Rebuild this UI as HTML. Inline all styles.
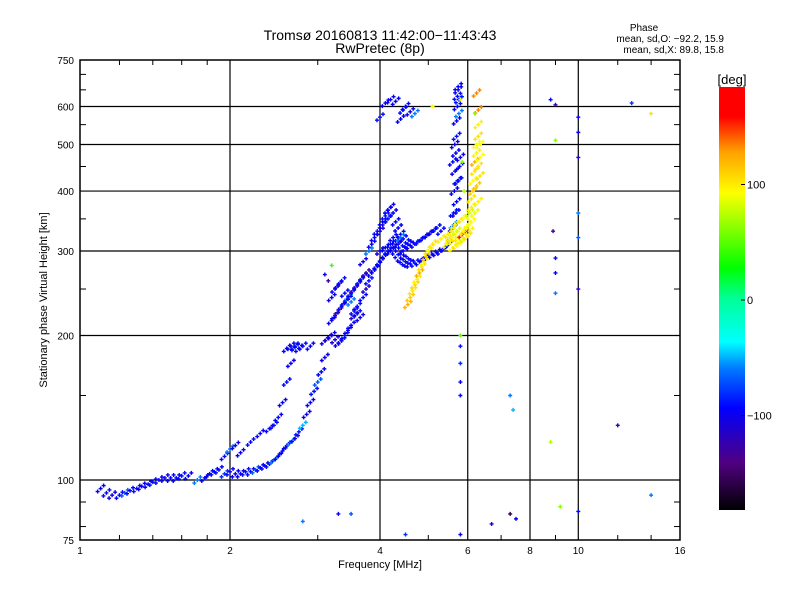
<!DOCTYPE html>
<html><head><meta charset="utf-8"><style>
body{margin:0;background:#fff;}
svg text{font-family:"Liberation Sans",sans-serif;fill:#000;}
</style></head><body>
<svg id="chart" width="800" height="600" xmlns="http://www.w3.org/2000/svg">
<defs>
<linearGradient id="cb" x1="0" y1="1" x2="0" y2="0"></linearGradient>
</defs>
<rect width="800" height="600" fill="#fff"/>
<text x="380" y="40" font-size="14" text-anchor="middle">Tromsø 20160813 11:42:00−11:43:43</text>
<text x="380" y="53" font-size="14" text-anchor="middle">RwPretec (8p)</text>
<text x="644" y="31" font-size="10" text-anchor="middle">Phase</text>
<text x="724" y="42" font-size="10" text-anchor="end">mean, sd,O: −92.2, 15.9</text>
<text x="724" y="53" font-size="10" text-anchor="end">mean, sd,X:  89.8, 15.8</text>
<g id="grid"></g>
<g id="points"></g>
<rect x="80" y="60" width="600" height="480" fill="none" stroke="#000" stroke-width="1.5"/>
<g id="axes"></g>
<text x="380" y="568" font-size="11" text-anchor="middle">Frequency [MHz]</text>
<text transform="translate(47,300) rotate(-90)" font-size="11" text-anchor="middle">Stationary phase Virtual Height [km]</text>
<text x="732" y="84" font-size="13" text-anchor="middle">[deg]</text>
<rect x="719" y="87" width="26" height="423" fill="url(#cb)"/>
<g id="cbticks"></g>
</svg>
<script>
const xTicks=[1,2,4,6,8,10,16];
const xGrid=[2,4,6,8,10];
const yTicks=[75,100,200,300,400,500,600,750];
const yGrid=[100,200,300,400,500,600];
const cbTicks=[100,0,-100];
const freqO=[1.1,1.13,1.16,1.2,1.23,1.26,1.3,1.33,1.37,1.4,1.44,1.48,1.52,1.56,1.6,1.65,1.72,1.78,1.82,1.86,1.9,1.95,2.0,2.05,2.1,2.15,2.2,2.25,2.3,2.35,2.4,2.45,2.5,2.55,2.6,2.65,2.7,2.75,2.8,2.85,2.9,2.95,3.0,3.05,3.1,1.95,2.0,2.05,2.1,2.2,2.3,2.4,2.45,2.5,2.55,2.6,2.65,2.7,2.8,2.9,2.6,2.65,2.7,2.75,
3.1,3.15,3.2,3.25,3.3,3.35,3.4,3.45,3.5,3.55,3.6,3.2,3.25,3.3,3.35,3.4,3.45,3.5,3.55,3.6,3.65,3.7,3.2,3.25,3.3,3.35,3.4,3.45,3.5,3.55,3.6,3.65,3.7,3.75,3.8,3.85,3.9,3.95,4.0,4.05,4.1,4.15,4.2,4.25,4.3,4.35,4.4,4.45,4.5,4.55,4.6,4.7,4.8,4.9,5.0,5.1,5.2,5.3,5.4,5.5,5.55,5.6,5.62,5.64,5.66,5.68,5.7,5.7,5.72,5.72,5.74,5.74,5.76,5.76,5.6,5.65,5.7,5.75,5.62,5.68,5.72,5.78,5.8,
3.8,3.85,3.9,3.95,4.0,4.05,4.1,4.15,4.2,4.25,4.3,4.35,4.4,4.45,4.5,4.55,4.6,4.7,4.8,4.9,5.0,5.1,5.2,5.3,4.0,4.1,4.2,4.3,4.4,3.9,3.7,3.75,4.05,4.15,4.25,4.35,4.45,
4.0,4.1,4.2,4.3,4.45,4.5,4.6,4.7,4.4,
8.8,9.0,10,10,10,10,10,10,8.9,9.0,9.0,9.0,12.8,5.8,5.8,5.8,5.8,7.3,7.4,12,14,10,7.3,7.5,6.7,2.8,3.3,3.5,5.8,4.5,3.2,3.1,3.15];
const heightO=[96,94,93,93,94,95,96,97,98,99,100,101,101,101,102,102,100,101,103,104,105,103,104,103,103,104,104,105,106,107,108,110,112,115,118,120,122,126,130,137,145,153,160,168,180,112,116,118,114,120,125,128,130,135,145,160,175,190,190,190,188,190,189,188,
195,198,200,196,193,195,200,205,210,220,230,215,220,225,230,235,240,245,250,255,260,265,240,250,255,260,245,238,235,225,222,218,240,250,260,270,275,280,285,290,295,300,300,305,300,295,290,288,285,283,282,283,285,290,292,295,298,300,305,310,320,335,360,400,440,480,520,560,600,630,650,660,620,580,460,500,380,420,340,360,420,450,470,
300,310,320,330,330,345,355,365,370,360,345,335,325,318,312,310,308,310,315,320,325,330,335,330,300,305,310,315,320,275,285,270,340,350,320,310,300,
570,610,620,615,590,600,585,580,565,
620,605,570,530,470,360,320,250,330,290,270,245,610,190,175,160,150,150,140,130,93,86,85,83,81,82,85,85,77,77,280,268,260];
const phaseO=[-95,-90,-100,-95,-70,-95,-90,-100,-95,-90,-95,-100,-95,-95,-90,-95,-60,-95,-100,-90,-95,-80,-100,-95,-100,-90,-95,-70,-95,-100,-90,-60,-95,-90,-100,-60,-95,-90,-50,-100,-95,-90,-70,-95,-100,-90,-60,-100,-95,-90,-95,-100,-90,-95,-95,-90,-100,-95,-90,-95,-95,-100,-90,-95,
-100,-120,-95,-110,-100,-95,-90,-100,-95,-120,-90,-100,-95,-130,-90,-100,-60,-95,-120,-100,-90,-95,-100,-95,-110,-90,-95,-100,-60,-95,-90,-100,-95,-110,-90,-95,-100,-95,-90,-95,-100,-90,-95,-100,-95,-90,-100,-95,-90,-100,-95,-90,-95,-100,-90,-95,-100,-95,-90,-95,-100,-95,-90,-95,-100,-95,-90,-95,-95,-90,-100,-95,-90,-60,-95,-100,-95,-90,-60,-95,-90,-95,-100,-60,-95,
-95,-90,-100,-95,-90,-95,-100,-95,-90,-95,-100,-95,-90,-95,-100,-95,-90,-95,-100,-95,-90,-95,-100,-95,-90,-95,-60,-95,-100,-120,-110,-90,-95,-100,-95,-90,-95,
-100,-95,-90,-95,-100,-60,-95,-90,-120,
-100,-95,-110,-60,-70,-120,-130,-100,-95,-60,-80,-90,-80,-95,-90,-60,-50,-120,-60,-95,-160,-95,-110,-60,-100,-70,-100,-80,40,-100,-130,-120,-100];
const freqX=[4.55,4.6,4.65,4.7,4.75,4.8,4.85,4.9,4.95,5.0,5.05,5.1,5.3,5.45,5.5,5.55,5.6,5.65,5.7,5.75,5.8,5.85,5.9,5.95,6.0,5.6,5.7,5.8,5.9,6.0,6.05,6.1,5.5,5.55,5.65,5.75,5.85,5.95,6.05,6.1,6.1,6.15,6.15,6.2,6.2,6.25,6.25,6.3,6.3,6.3,6.35,6.35,6.3,6.2,6.25,6.3,6.35,6.25,5.85,5.9,5.8,6.2,6.0,5.1,9.0,8.8,9.2,14,5.8];
const heightX=[232,240,248,255,262,270,278,285,292,300,305,310,318,310,315,320,315,325,330,320,315,325,330,335,340,305,308,312,318,322,330,345,325,330,340,345,350,355,360,370,385,400,420,440,460,480,500,520,550,590,470,430,380,360,410,450,500,640,460,400,620,580,350,600,510,120,88,580,200];
const phaseX=[120,110,100,105,95,120,100,95,110,100,90,100,95,90,85,100,95,90,80,100,95,150,100,90,85,95,100,90,80,100,95,90,100,95,85,95,100,90,80,95,100,110,90,100,120,95,90,100,95,130,90,100,95,85,110,100,90,130,60,70,80,60,90,90,60,70,60,100,50];
const X0=80,X1=680,Y0=540,Y1=60;
function xs(f){return X0+(X1-X0)*Math.log2(f)/4;}
function ys(h){return Y0-(Y0-Y1)*Math.log10(h/75);}
const stops=[[-180,[0,0,0]],[-140,[80,0,128]],[-93,[0,0,255]],[-60,[0,120,255]],[-37,[0,255,255]],[0,[0,255,150]],[26,[0,255,0]],[90,[255,255,0]],[125,[255,160,0]],[155,[255,0,0]],[180,[255,0,0]]];
function col(d){d=Math.max(-180,Math.min(180,d));for(let i=1;i<stops.length;i++){if(d<=stops[i][0]){const a=stops[i-1],b=stops[i];const t=(d-a[0])/(b[0]-a[0]);const c=a[1].map((v,k)=>Math.round(v+(b[1][k]-v)*t));return 'rgb('+c.join(',')+')';}}return 'rgb(255,0,0)';}
const NS='http://www.w3.org/2000/svg';
function mk(tag,at,parent){const e=document.createElementNS(NS,tag);for(const k in at)e.setAttribute(k,at[k]);parent.appendChild(e);return e;}
const grad=document.getElementById('cb');
stops.forEach(s=>{mk('stop',{offset:((s[0]+180)/360*100)+'%','stop-color':col(s[0])},grad);});
const grid=document.getElementById('grid');
xGrid.forEach(f=>{const l=mk('line',{x1:xs(f),x2:xs(f),y1:Y1,y2:Y0,stroke:'#000','stroke-width':1.2},grid);

});
yGrid.forEach(h=>{const l=mk('line',{x1:X0,x2:X1,y1:ys(h),y2:ys(h),stroke:'#000','stroke-width':1.2},grid);

});
const axes=document.getElementById('axes');
const minorX=[1.2,1.4,1.6,1.8,3,5,7,9,12,14];
minorX.forEach(f=>{mk('line',{x1:xs(f),x2:xs(f),y1:Y0,y2:Y0-5,stroke:'#000'},axes);mk('line',{x1:xs(f),x2:xs(f),y1:Y1,y2:Y1+5,stroke:'#000'},axes);});
const minorY=[80,90,150,250,350,450,550,650,700];
minorY.forEach(h=>{mk('line',{x1:X0,x2:X0+6,y1:ys(h),y2:ys(h),stroke:'#000'},axes);mk('line',{x1:X1,x2:X1-6,y1:ys(h),y2:ys(h),stroke:'#000'},axes);});
xTicks.forEach(f=>{const t=mk('text',{x:xs(f),y:Y0+14,'font-size':10,'text-anchor':'middle'},axes);t.textContent=f;

});
yTicks.forEach(h=>{const t=mk('text',{x:X0-6,y:ys(h)+4,'font-size':10,'text-anchor':'end'},axes);t.textContent=h;

});
const cbt=document.getElementById('cbticks');
cbTicks.forEach(d=>{const y=300-d*1.155;mk('line',{x1:745,x2:741,y1:y,y2:y,stroke:'#000'},cbt);const t=mk('text',{x:747,y:y+4,'font-size':11},cbt);t.textContent=d===-100?'−100':d;

});
const pg=document.getElementById('points');
function plus(f,h,p,name,dense){const x=xs(f),y=ys(h),c=col(p);
let d=`M${x-2},${y}h4M${x},${y-2}v4`;
if(dense){d+=`M${x+1},${y-3}h4M${x+3},${y-5}v4M${x-5},${y+3}h4M${x-3},${y+1}v4`;}
const g=mk('path',{d:d,stroke:c,'stroke-width':1.4,fill:'none'},pg);

}
const nScatterO=33, nScatterX=11;
freqO.forEach((f,i)=>plus(f,heightO[i],phaseO[i],'o-mode-point',i<freqO.length-nScatterO));
freqX.forEach((f,i)=>plus(f,heightX[i],phaseX[i],'x-mode-point',i<freqX.length-nScatterX));
</script>
</body></html>
